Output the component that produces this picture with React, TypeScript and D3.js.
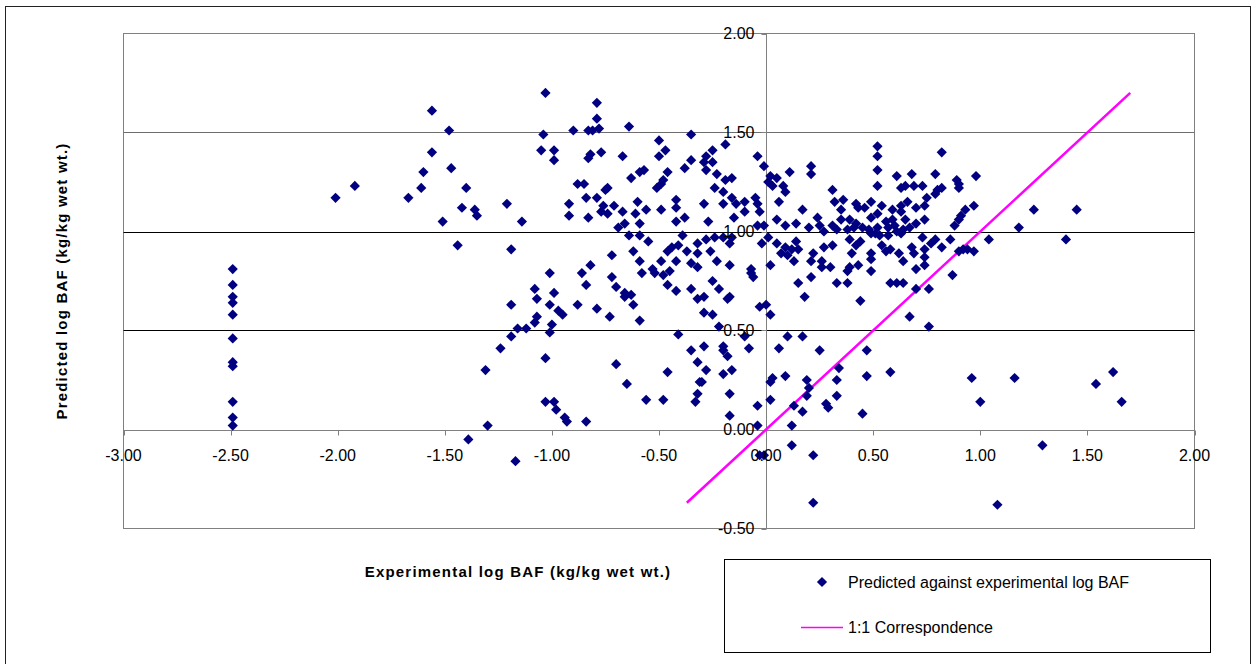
import React from "react";
import * as d3 from "d3";

// Experimental (x) vs predicted (y) log BAF
const leftCluster: [number, number][] = [
  [-2.01, 1.17], [-1.92, 1.23],
  [-2.49, 0.81], [-2.49, 0.73], [-2.49, 0.67], [-2.49, 0.64], [-2.49, 0.58], [-2.49, 0.46],
  [-2.49, 0.34], [-2.49, 0.32], [-2.49, 0.14], [-2.49, 0.06], [-2.49, 0.02],
  [-1.03, 1.70], [-1.56, 1.61], [-1.48, 1.51], [-1.04, 1.49], [-0.90, 1.51], [-0.83, 1.51],
  [-1.56, 1.40], [-1.05, 1.41], [-0.99, 1.41], [-0.99, 1.36], [-1.60, 1.30], [-1.47, 1.32],
  [-1.61, 1.22], [-1.40, 1.22], [-1.67, 1.17], [-1.42, 1.12], [-1.36, 1.11], [-1.35, 1.08],
  [-1.21, 1.14], [-1.51, 1.05], [-1.14, 1.05], [-0.88, 1.24], [-0.85, 1.24], [-0.84, 1.17],
  [-0.92, 1.14], [-0.92, 1.08], [-0.83, 1.07], [-1.44, 0.93], [-1.19, 0.91], [-1.01, 0.79],
  [-0.86, 0.79],
  [-0.84, 0.73], [-1.08, 0.71], [-0.99, 0.69], [-1.07, 0.66], [-1.19, 0.63], [-1.01, 0.63],
  [-0.88, 0.63], [-0.97, 0.60], [-0.95, 0.58], [-1.07, 0.57], [-1.08, 0.54], [-1.00, 0.53],
  [-1.16, 0.51], [-1.12, 0.51], [-1.01, 0.49], [-1.19, 0.47], [-1.24, 0.41], [-1.03, 0.36],
  [-1.31, 0.30], [-1.03, 0.14], [-0.99, 0.14], [-0.98, 0.10], [-0.94, 0.06], [-0.93, 0.04],
  [-0.84, 0.04], [-1.30, 0.02], [-1.39, -0.05], [-1.17, -0.16],
];

const centerUpper: [number, number][] = [
  [-0.79, 1.65], [-0.79, 1.57], [-0.81, 1.51], [-0.78, 1.52], [-0.64, 1.53], [-0.35, 1.49],
  [-0.50, 1.46], [-0.19, 1.44], [-0.47, 1.41], [-0.25, 1.41], [-0.50, 1.38], [-0.83, 1.37],
  [-0.82, 1.39], [-0.77, 1.40], [-0.67, 1.38], [-0.28, 1.38], [-0.29, 1.35], [-0.25, 1.35],
  [-0.35, 1.36], [-0.38, 1.32], [-0.04, 1.38], [-0.01, 1.33], [-0.28, 1.31], [-0.57, 1.31],
  [-0.59, 1.30], [-0.63, 1.27], [-0.46, 1.30], [-0.23, 1.29], [-0.16, 1.27], [-0.19, 1.26],
  [0.02, 1.28], [-0.48, 1.26], [-0.49, 1.24], [-0.51, 1.22], [-0.74, 1.22], [-0.75, 1.21],
  [-0.24, 1.22], [-0.20, 1.20], [0.01, 1.25], [0.03, 1.23], [-0.79, 1.17], [-0.16, 1.17],
  [-0.05, 1.17], [-0.60, 1.15], [-0.42, 1.16], [-0.76, 1.13], [-0.71, 1.13], [-0.29, 1.14],
  [-0.20, 1.14], [-0.14, 1.14], [-0.10, 1.15], [-0.04, 1.14], [-0.42, 1.12], [-0.56, 1.11],
  [-0.49, 1.11], [-0.61, 1.09], [-0.67, 1.10], [-0.77, 1.10], [-0.74, 1.09], [-0.15, 1.07],
  [-0.10, 1.10], [-0.03, 1.10], [-0.59, 1.04], [-0.42, 1.05], [-0.38, 1.07], [-0.27, 1.05],
  [-0.66, 1.04], [-0.69, 1.02], [-0.01, 1.03], [-0.04, 1.03], [-0.64, 0.98], [-0.59, 0.98],
  [-0.55, 0.95], [-0.39, 0.98], [-0.32, 0.94], [-0.28, 0.96], [-0.24, 0.97], [-0.20, 0.97],
  [-0.16, 0.97], [-0.17, 0.94], [-0.02, 0.94], [0.01, 0.97], [-0.44, 0.92], [-0.41, 0.93],
  [-0.46, 0.90], [-0.37, 0.90], [-0.62, 0.90], [-0.72, 0.88], [-0.32, 0.89], [-0.26, 0.90],
  [-0.23, 0.85], [-0.17, 0.83], [-0.59, 0.85], [-0.49, 0.85], [-0.42, 0.85], [-0.35, 0.84],
  [-0.32, 0.82], [-0.82, 0.83], [0.02, 0.83], [-0.07, 0.81], [-0.07, 0.79], [-0.72, 0.77],
  [-0.58, 0.79], [-0.53, 0.81], [-0.52, 0.79], [-0.48, 0.78], [-0.45, 0.80],
];

const centerLower: [number, number][] = [
  [-0.70, 0.72], [-0.66, 0.69], [-0.63, 0.68], [-0.66, 0.67], [-0.79, 0.61], [-0.73, 0.57],
  [-0.62, 0.63], [-0.59, 0.55], [-0.46, 0.73], [-0.42, 0.70], [-0.35, 0.71], [-0.32, 0.66],
  [-0.29, 0.67], [-0.25, 0.75], [-0.22, 0.71], [-0.18, 0.66], [-0.17, 0.67], [-0.29, 0.59],
  [-0.25, 0.58], [-0.06, 0.77], [-0.03, 0.62], [0.00, 0.63], [0.02, 0.58], [-0.22, 0.52],
  [-0.41, 0.48], [-0.35, 0.40], [-0.29, 0.42], [-0.20, 0.42], [-0.20, 0.40], [-0.18, 0.37],
  [-0.10, 0.47], [-0.08, 0.41], [0.06, 0.41], [-0.70, 0.33], [-0.65, 0.23], [-0.46, 0.29],
  [-0.32, 0.34], [-0.28, 0.30], [-0.20, 0.28], [-0.16, 0.30], [-0.31, 0.24], [-0.30, 0.24],
  [-0.32, 0.18], [-0.33, 0.14], [-0.17, 0.18], [-0.56, 0.15], [-0.48, 0.15], [-0.17, 0.07],
  [-0.04, 0.12], [0.02, 0.15], [0.02, 0.24], [0.03, 0.26], [-0.04, 0.02], [-0.03, -0.13],
  [-0.01, -0.13],
];

const rightCluster: [number, number][] = [
  [0.52, 1.43], [0.52, 1.38], [0.52, 1.31], [0.52, 1.23], [0.82, 1.40], [0.21, 1.33],
  [0.21, 1.29], [0.11, 1.30], [0.05, 1.27], [0.08, 1.23], [0.09, 1.20], [0.06, 1.15],
  [0.31, 1.21], [0.36, 1.16], [0.32, 1.15], [0.17, 1.11], [0.05, 1.06], [0.09, 1.03],
  [0.14, 1.04], [0.24, 1.07], [0.25, 1.03], [0.20, 1.02], [0.31, 1.03], [0.35, 1.11],
  [0.42, 1.14], [0.43, 1.12], [0.46, 1.12], [0.49, 1.15], [0.54, 1.13], [0.52, 1.09],
  [0.49, 1.07], [0.35, 1.06], [0.39, 1.06], [0.42, 1.04], [0.41, 1.02], [0.38, 1.01],
  [0.33, 1.01], [0.45, 1.02], [0.48, 1.01], [0.52, 1.02], [0.51, 0.99], [0.53, 0.98],
  [0.49, 0.99], [0.56, 1.05], [0.57, 1.02], [0.59, 1.11], [0.59, 1.06], [0.61, 1.28],
  [0.63, 1.22], [0.65, 1.23], [0.68, 1.29], [0.69, 1.23], [0.73, 1.23], [0.79, 1.29],
  [0.80, 1.21], [0.82, 1.22], [0.79, 1.19], [0.89, 1.26], [0.90, 1.24], [0.90, 1.22],
  [0.75, 1.17], [0.74, 1.13], [0.66, 1.15], [0.63, 1.13], [0.63, 1.10], [0.65, 1.06],
  [0.60, 1.03], [0.64, 1.01], [0.67, 1.02], [0.70, 1.04], [0.63, 0.99], [0.61, 1.00],
  [0.74, 1.06], [0.70, 1.12], [0.93, 1.11], [0.91, 1.08], [0.90, 1.06], [0.88, 1.03],
  [0.86, 0.96], [0.79, 0.96], [0.77, 0.94], [0.82, 0.92], [0.90, 0.90], [0.92, 0.91],
  [0.74, 0.91], [0.73, 0.97], [0.68, 0.92], [0.69, 0.89], [0.74, 0.87], [0.74, 0.83],
  [0.70, 0.81], [0.64, 0.85], [0.62, 0.89], [0.58, 0.91], [0.56, 0.90], [0.57, 0.98],
  [0.54, 0.93], [0.49, 0.89], [0.49, 0.86], [0.49, 0.80], [0.44, 0.95], [0.42, 0.93],
  [0.39, 0.96], [0.40, 0.89], [0.39, 0.82], [0.38, 0.80], [0.43, 0.83], [0.44, 0.65],
  [0.38, 0.74], [0.33, 0.74], [0.31, 0.93], [0.27, 0.92], [0.22, 0.89], [0.26, 0.85],
  [0.30, 0.82], [0.26, 0.82], [0.21, 0.85], [0.21, 0.77], [0.15, 0.74], [0.18, 0.67],
  [0.05, 0.94], [0.09, 0.92], [0.12, 0.91], [0.07, 0.89], [0.10, 0.88], [0.14, 0.95],
  [0.15, 0.91], [0.13, 0.85], [0.27, 1.00], [0.67, 0.57], [0.87, 0.78], [0.76, 0.71],
  [0.70, 0.71], [0.58, 0.74], [0.61, 0.74], [0.64, 0.74],
];

const rightLower: [number, number][] = [
  [0.76, 0.52], [0.10, 0.47], [0.17, 0.47], [0.25, 0.40], [0.47, 0.40], [0.34, 0.31],
  [0.33, 0.25], [0.47, 0.27], [0.58, 0.29], [0.09, 0.27], [0.19, 0.25], [0.20, 0.21],
  [0.19, 0.17], [0.33, 0.17], [0.28, 0.13], [0.29, 0.11], [0.13, 0.12], [0.17, 0.09],
  [0.45, 0.08], [0.12, 0.02], [0.12, -0.08], [0.22, -0.13], [0.22, -0.37],
  [0.98, 1.28], [0.97, 1.13], [1.25, 1.11], [1.45, 1.11], [1.18, 1.02], [1.04, 0.96],
  [1.40, 0.96], [0.94, 0.91], [0.97, 0.90], [0.96, 0.26], [1.00, 0.14], [1.16, 0.26],
  [1.54, 0.23], [1.62, 0.29], [1.66, 0.14], [1.29, -0.08], [1.08, -0.38],
];

const oneToOne: number[] = [-0.37, 1.7];
const xTicks: number[] = [-3, -2.5, -2, -1.5, -1, -0.5, 0, 0.5, 1, 1.5, 2];
const yTicks: number[] = [-0.5, 0, 0.5, 1, 1.5, 2];
const gridValues: number[] = [0.5, 1, 1.5];

const xTitle = "Experimental log BAF (kg/kg wet wt.)";
const yTitle = "Predicted log BAF (kg/kg wet wt.)";
const legendLabels = ["Predicted against experimental log BAF", "1:1 Correspondence"];

const W = 1258;
const H = 664;
const plot = { left: 123.5, right: 1194.5, top: 33.5, bottom: 528.5 };
const FONT = "'Liberation Sans', Arial, Helvetica, sans-serif";
const NAVY = "#000080";
const MAGENTA = "#FF00FF";

const diamond = (s: number) => `M0,${-s}L${s},0L0,${s}L${-s},0Z`;

export default function App() {
  const x = d3.scaleLinear().domain([-3, 2]).range([plot.left, plot.right]);
  const y = d3.scaleLinear().domain([-0.5, 2]).range([plot.bottom, plot.top]);
  const points = [...leftCluster, ...centerUpper, ...centerLower, ...rightCluster, ...rightLower];
  const x0 = Math.round(x(0)) + 0.5;
  const y0 = Math.round(y(0)) + 0.5;
  const line = d3
    .line<number>()
    .x((v) => x(v))
    .y((v) => y(v));
  const fmt = d3.format(".2f");
  const fmtTick = (v: number) => fmt(v).replace("−", "-");

  return (
    <svg
      width={W}
      height={H}
      style={{ position: "absolute", left: 0, top: 0, background: "#fff" }}
      fontFamily={FONT}
    >
      <rect x={0} y={0} width={W} height={H} fill="#fff" />
      {/* outer chart frame */}
      <rect x={5.5} y={6.5} width={1245} height={680} fill="none" stroke="#222" strokeWidth={1} />
      {/* plot area */}
      <rect
        x={plot.left}
        y={plot.top}
        width={plot.right - plot.left}
        height={plot.bottom - plot.top}
        fill="#fff"
        stroke="#808080"
        strokeWidth={1}
      />
      {gridValues.map((g) => (
        <line
          key={g}
          x1={plot.left}
          x2={plot.right}
          y1={Math.round(y(g)) + 0.5}
          y2={Math.round(y(g)) + 0.5}
          stroke={g === 1.5 ? "#6e6e6e" : "#000"}
          strokeWidth={1}
        />
      ))}
      {/* axes */}
      <line x1={plot.left} x2={plot.right} y1={y0} y2={y0} stroke="#808080" />
      <line x1={x0} x2={x0} y1={plot.top} y2={plot.bottom} stroke="#808080" />
      {xTicks.map((t) => (
        <line
          key={"xt" + t}
          x1={Math.round(x(t)) + 0.5}
          x2={Math.round(x(t)) + 0.5}
          y1={y0}
          y2={y0 + 5}
          stroke="#808080"
        />
      ))}
      {yTicks.map((t) => (
        <line
          key={"yt" + t}
          x1={x0 - 5}
          x2={x0}
          y1={Math.round(y(t)) + 0.5}
          y2={Math.round(y(t)) + 0.5}
          stroke="#808080"
        />
      ))}
      {/* 1:1 line */}
      <path d={line(oneToOne) || ""} stroke={MAGENTA} strokeWidth={2.5} fill="none" />
      {/* points */}
      {points.map((p, i) => (
        <path
          key={i}
          d={diamond(5.1)}
          transform={`translate(${x(p[0])},${y(p[1])})`}
          fill={NAVY}
        />
      ))}
      {/* tick labels */}
      {xTicks.map((t) => (
        <text key={"xl" + t} x={x(t)} y={y0 + 30} textAnchor="middle" fontSize={16} fill="#000">
          {fmtTick(t)}
        </text>
      ))}
      {yTicks.map((t) => (
        <text
          key={"yl" + t}
          x={x0 - 12}
          y={y(t)}
          dy="0.35em"
          textAnchor="end"
          fontSize={16}
          fill="#000"
        >
          {fmtTick(t)}
        </text>
      ))}
      {/* axis titles */}
      <text
        x={518}
        y={577}
        textAnchor="middle"
        fontSize={15}
        fontWeight="bold"
        letterSpacing={1.2}
        fill="#000"
      >
        {xTitle}
      </text>
      <text
        transform={`translate(67,${(plot.top + plot.bottom) / 2}) rotate(-90)`}
        textAnchor="middle"
        fontSize={15}
        fontWeight="bold"
        letterSpacing={1.2}
        fill="#000"
      >
        {yTitle}
      </text>
      {/* legend */}
      <rect x={724.5} y={559.5} width={486} height={93} fill="#fff" stroke="#000" strokeWidth={1} />
      <path d={diamond(5.1)} transform="translate(822,582)" fill={NAVY} />
      <text x={848} y={587.5} fontSize={16} fill="#000">
        {legendLabels[0]}
      </text>
      <line x1={801} x2={843} y1={627.5} y2={627.5} stroke={MAGENTA} strokeWidth={1.5} />
      <text x={848} y={632.5} fontSize={16} fill="#000">
        {legendLabels[1]}
      </text>
    </svg>
  );
}
